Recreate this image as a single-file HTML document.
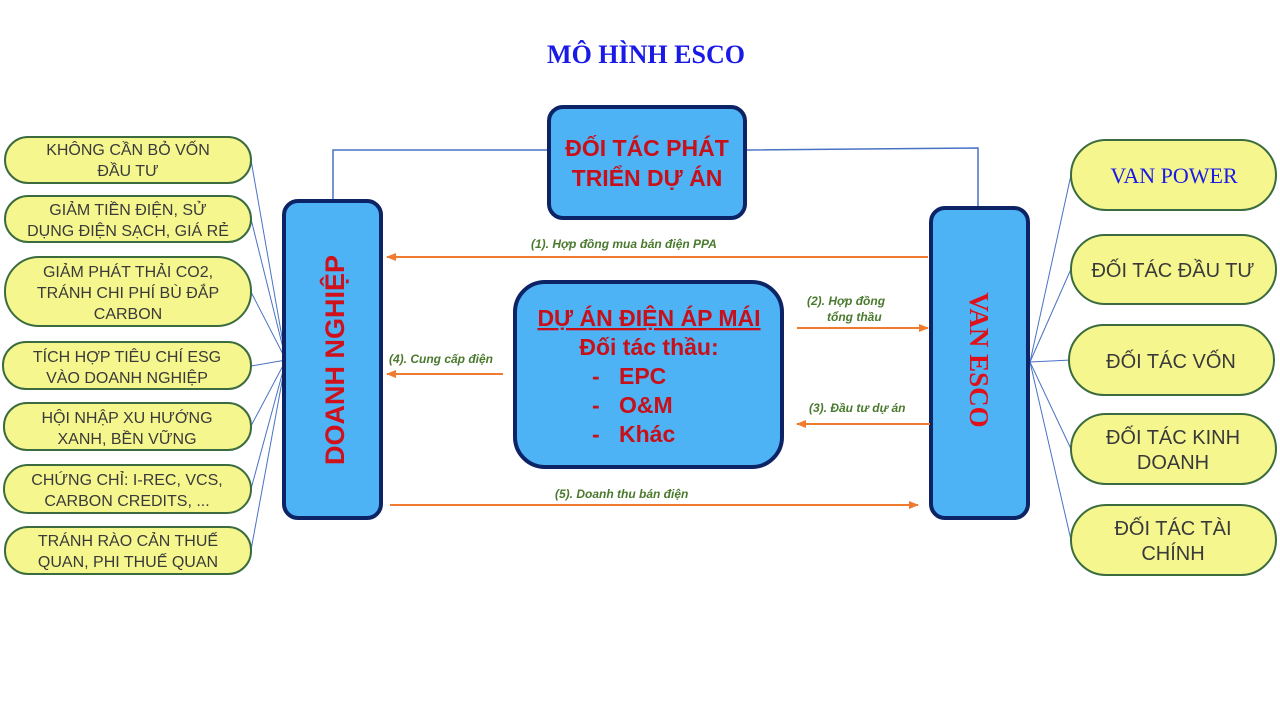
<!DOCTYPE html>
<html><head><meta charset="utf-8"><style>
html,body{margin:0;padding:0;background:#fff;}
svg{display:block;}
.e{fill:#f5f78e;stroke:#3b6b3f;stroke-width:2;}
.et{font-family:"Liberation Sans",sans-serif;font-size:16px;fill:#3a3a3a;text-anchor:middle;}
.rt{font-family:"Liberation Sans",sans-serif;font-size:20px;fill:#3a3a3a;text-anchor:middle;}
.b{fill:#4db3f4;stroke:#0c2466;stroke-width:4;}
.lab{font-family:"Liberation Sans",sans-serif;font-size:12px;font-style:italic;font-weight:bold;fill:#4a7a2e;}
.ar{stroke:#ee7b30;stroke-width:2;fill:none;}
.ln{stroke:#4a72c4;stroke-width:1;fill:none;}
</style></head><body>
<svg width="1280" height="720" viewBox="0 0 1280 720">
<defs><marker id="a" markerWidth="10" markerHeight="8" refX="9" refY="4" orient="auto" markerUnits="userSpaceOnUse"><path d="M0,0 L10,4 L0,8 z" fill="#ee7b30"/></marker></defs>
<text x="646" y="63" text-anchor="middle" font-family="Liberation Serif,serif" font-weight="bold" font-size="26" fill="#1a1ae6">MÔ HÌNH ESCO</text>
<g class="ln">
<line x1="251" y1="160" x2="286" y2="360"/><line x1="251" y1="219" x2="286" y2="360"/>
<line x1="251" y1="292" x2="286" y2="360"/><line x1="251" y1="366" x2="286" y2="360"/>
<line x1="251" y1="426" x2="286" y2="360"/><line x1="251" y1="489" x2="286" y2="360"/>
<line x1="251" y1="550" x2="286" y2="360"/>
<line x1="1030" y1="362" x2="1071" y2="175"/><line x1="1030" y1="362" x2="1071" y2="269"/>
<line x1="1030" y1="362" x2="1071" y2="360"/><line x1="1030" y1="362" x2="1071" y2="449"/>
<line x1="1030" y1="362" x2="1071" y2="540"/>
<polyline points="333,200 333,150 549,150" stroke-width="1.5"/>
<polyline points="745,150 978,148 978,207" stroke-width="1.5"/>
</g>
<rect class="e" x="5" y="137" width="246" height="46" rx="23"/>
<text class="et" x="128" y="155">KHÔNG CẦN BỎ VỐN</text><text class="et" x="128" y="176">ĐẦU TƯ</text>
<rect class="e" x="5" y="196" width="246" height="46" rx="23"/>
<text class="et" x="128" y="215">GIẢM TIỀN ĐIỆN, SỬ</text><text class="et" x="128" y="236">DỤNG ĐIỆN SẠCH, GIÁ RẺ</text>
<rect class="e" x="5" y="257" width="246" height="69" rx="34"/>
<text class="et" x="128" y="277">GIẢM PHÁT THẢI CO2,</text><text class="et" x="128" y="298">TRÁNH CHI PHÍ BÙ ĐẮP</text><text class="et" x="128" y="319">CARBON</text>
<rect class="e" x="3" y="342" width="248" height="47" rx="23"/>
<text class="et" x="127" y="362">TÍCH HỢP TIÊU CHÍ ESG</text><text class="et" x="127" y="383">VÀO DOANH NGHIỆP</text>
<rect class="e" x="4" y="403" width="247" height="47" rx="23"/>
<text class="et" x="127" y="423">HỘI NHẬP XU HƯỚNG</text><text class="et" x="127" y="444">XANH, BỀN VỮNG</text>
<rect class="e" x="4" y="465" width="247" height="48" rx="24"/>
<text class="et" x="127" y="485">CHỨNG CHỈ: I-REC, VCS,</text><text class="et" x="127" y="506">CARBON CREDITS, ...</text>
<rect class="e" x="5" y="527" width="246" height="47" rx="23"/>
<text class="et" x="128" y="546">TRÁNH RÀO CẢN THUẾ</text><text class="et" x="128" y="567">QUAN, PHI THUẾ QUAN</text>
<rect class="e" x="1071" y="140" width="205" height="70" rx="35"/>
<text x="1174" y="183" text-anchor="middle" font-family="Liberation Serif,serif" font-size="22" fill="#1a1ae6">VAN POWER</text>
<rect class="e" x="1071" y="235" width="205" height="69" rx="34"/>
<text class="rt" x="1173" y="277">ĐỐI TÁC ĐẦU TƯ</text>
<rect class="e" x="1069" y="325" width="205" height="70" rx="35"/>
<text class="rt" x="1171" y="368">ĐỐI TÁC VỐN</text>
<rect class="e" x="1071" y="414" width="205" height="70" rx="35"/>
<text class="rt" x="1173" y="444">ĐỐI TÁC KINH</text><text class="rt" x="1173" y="469">DOANH</text>
<rect class="e" x="1071" y="505" width="205" height="70" rx="35"/>
<text class="rt" x="1173" y="535">ĐỐI TÁC TÀI</text><text class="rt" x="1173" y="560">CHÍNH</text>
<rect class="b" x="284" y="201" width="97" height="317" rx="14"/>
<text transform="translate(344,360) rotate(-90)" text-anchor="middle" font-family="Liberation Sans,sans-serif" font-weight="bold" font-size="27" fill="#d0101a">DOANH NGHIỆP</text>
<rect class="b" x="549" y="107" width="196" height="111" rx="14"/>
<text x="647" y="156" text-anchor="middle" font-family="Liberation Sans,sans-serif" font-weight="bold" font-size="23" fill="#c8101a">ĐỐI TÁC PHÁT</text>
<text x="647" y="186" text-anchor="middle" font-family="Liberation Sans,sans-serif" font-weight="bold" font-size="23" fill="#c8101a">TRIỂN DỰ ÁN</text>
<rect class="b" x="931" y="208" width="97" height="310" rx="14"/>
<text transform="translate(970,360) rotate(90)" text-anchor="middle" font-family="Liberation Serif,serif" font-weight="bold" font-size="27" fill="#e0101a">VAN ESCO</text>
<rect class="b" x="515" y="282" width="267" height="185" rx="30"/>
<g font-family="Liberation Sans,sans-serif" font-weight="bold" fill="#c8101a" font-size="23">
<text x="649" y="326" text-anchor="middle" text-decoration="underline">DỰ ÁN ĐIỆN ÁP MÁI</text>
<text x="649" y="355" text-anchor="middle">Đối tác thầu:</text>
<text x="592" y="384">-</text><text x="619" y="384">EPC</text>
<text x="592" y="413">-</text><text x="619" y="413">O&amp;M</text>
<text x="592" y="442">-</text><text x="619" y="442">Khác</text>
</g>
<line class="ar" x1="928" y1="257" x2="387" y2="257" marker-end="url(#a)"/>
<text class="lab" x="531" y="248">(1). Hợp đồng mua bán điện PPA</text>
<line class="ar" x1="797" y1="328" x2="928" y2="328" marker-end="url(#a)"/>
<text class="lab" x="807" y="305">(2). Hợp đồng</text><text class="lab" x="827" y="321">tổng thầu</text>
<line class="ar" x1="930" y1="424" x2="797" y2="424" marker-end="url(#a)"/>
<text class="lab" x="809" y="412">(3). Đầu tư dự án</text>
<line class="ar" x1="503" y1="374" x2="387" y2="374" marker-end="url(#a)"/>
<text class="lab" x="389" y="363">(4). Cung cấp điện</text>
<line class="ar" x1="390" y1="505" x2="918" y2="505" marker-end="url(#a)"/>
<text class="lab" x="555" y="498">(5). Doanh thu bán điện</text>
</svg>
</body></html>
